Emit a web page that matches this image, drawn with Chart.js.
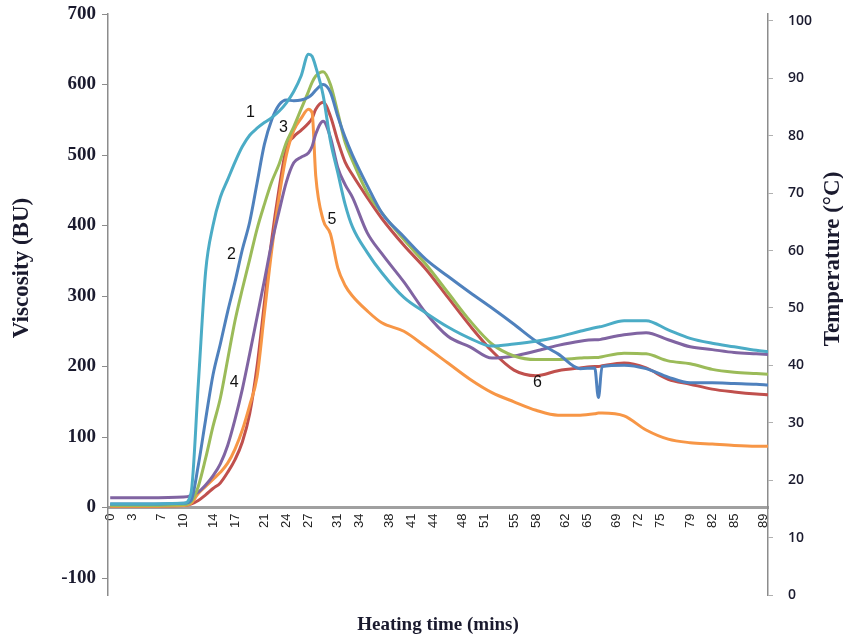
<!DOCTYPE html>
<html>
<head>
<meta charset="utf-8">
<script src="https://cdn.jsdelivr.net/npm/chart.js@4.4.1/dist/chart.umd.min.js"></script>
<style>
  body { margin: 0; background: #fff; }
  #wrap { width: 843px; height: 639px; }
</style>
</head>
<body>
<div id="wrap"><canvas id="visco-chart"></canvas></div>
<script>
// heating time (mins) at which the curves were read
const times = [0, 5, 10, 11, 12, 13, 14, 15, 16, 17, 18, 19, 20, 21, 22, 23, 24, 25, 26, 27, 27.5, 28, 29, 30, 31, 32, 33, 35, 37, 40, 43, 46, 49, 52, 55, 58, 61, 64, 66, 66.5, 67, 70, 73, 76, 79, 82, 85, 88, 89.6];

// viscosity (BU), one array per curve, numbered as on the figure
const curve1 = [5, 5, 6, 20, 175, 335, 400, 440, 465, 490, 512, 528, 538, 546, 553, 562, 574, 590, 612, 643, 640, 625, 585, 520, 475, 430, 398, 362, 333, 298, 276, 256, 240, 229, 232, 236, 242, 250, 255, 256, 257, 265, 265, 252, 240, 233, 228, 223, 221];
const curve2 = [5, 5, 6, 10, 60, 125, 188, 232, 278, 320, 366, 405, 460, 515, 550, 571, 578, 577, 578, 582, 586, 592, 600, 589, 555, 525, 500, 457, 418, 384, 352, 328, 305, 283, 260, 236, 218, 197, 198, 156, 200, 202, 197, 185, 177, 177, 176, 175, 174];
const curve3 = [3, 3, 4, 8, 30, 70, 115, 155, 210, 265, 310, 352, 395, 430, 462, 487, 518, 540, 565, 590, 603, 612, 618, 600, 560, 518, 492, 447, 418, 380, 345, 305, 265, 232, 215, 210, 210, 212, 213, 213, 214, 219, 218, 208, 204, 196, 192, 190, 189];
const curve4 = [14, 14, 15, 17, 22, 32, 45, 62, 88, 125, 168, 218, 270, 322, 375, 420, 462, 489, 497, 503, 512, 530, 548, 525, 482, 458, 440, 390, 360, 320, 276, 243, 228, 212, 215, 222, 230, 236, 238, 238, 239, 245, 248, 238, 228, 224, 220, 218, 217];
const curve5 = [2, 2, 3, 6, 20, 30, 40, 50, 63, 83, 110, 145, 185, 275, 365, 440, 500, 535, 552, 565, 560, 470, 408, 388, 340, 315, 300, 279, 262, 250, 228, 205, 182, 163, 150, 138, 131, 131, 133, 134, 134, 130, 110, 97, 92, 90, 88, 87, 87];
const curve6 = [2, 2, 3, 5, 10, 18, 27, 35, 50, 68, 93, 133, 200, 290, 380, 452, 510, 526, 535, 545, 552, 565, 575, 555, 520, 490, 472, 440, 410, 372, 338, 298, 258, 222, 195, 187, 194, 198, 200, 200, 201, 205, 198, 182, 175, 168, 164, 161, 160];

const curveColors = ['#4BACC6', '#4F81BD', '#9BBB59', '#8064A2', '#F79646', '#C0504D'];

// axis ticks
const xTicks = [0, 3, 7, 10, 14, 17, 21, 24, 27, 31, 34, 38, 41, 44, 48, 51, 55, 58, 62, 65, 69, 72, 75, 79, 82, 85, 89];
const yTicks = [-100, 0, 100, 200, 300, 400, 500, 600, 700];
const tempTicks = [0, 10, 20, 30, 40, 50, 60, 70, 80, 90, 100];

// curve number labels (time, viscosity)
const curveNames = ['1', '2', '3', '4', '5', '6'];
const nameTimes = [19.1, 16.5, 23.6, 16.9, 30.2, 58.2];
const nameValues = [560, 359, 539, 177, 408, 177];

const allCurves = [curve1, curve2, curve3, curve4, curve5, curve6];

const datasets = allCurves.map((vals, i) => ({
    label: curveNames[i],
    data: vals.map((v, j) => ({ x: times[j], y: v })),
    borderColor: curveColors[i],
    backgroundColor: curveColors[i],
    borderWidth: 3,
    pointRadius: 0,
    cubicInterpolationMode: 'monotone',
    yAxisID: 'y',
}));

const axisGray = '#8c8c8c';

// drop the label overflow padding so the plot area sits where the layout padding puts it
const noPad = (scale) => {
    scale.paddingTop = 0;
    scale.paddingBottom = 0;
    scale.paddingLeft = 0;
    scale.paddingRight = 0;
};

const textPlugin = {
    id: 'texts',
    afterDraw(chart) {
        const { ctx, chartArea } = chart;
        const x = chart.scales.x;
        const y = chart.scales.y;
        ctx.save();
        ctx.fillStyle = '#111';
        ctx.textAlign = 'center';
        ctx.textBaseline = 'middle';
        ctx.font = '16px "Liberation Sans"';
        curveNames.forEach((n, i) => {
            ctx.fillText(n, x.getPixelForValue(nameTimes[i]), y.getPixelForValue(nameValues[i]));
        });

        ctx.fillStyle = '#1a1a2e';
        ctx.font = 'bold 19px "Liberation Serif"';
        ctx.fillText('Heating time (mins)', (chartArea.left + chartArea.right) / 2, chart.height - 14);

        ctx.font = 'bold 23px "Liberation Serif"';
        ctx.translate(22, 268);
        ctx.rotate(-Math.PI / 2);
        ctx.fillText('Viscosity (BU)', 0, 0);
        ctx.restore();

        ctx.save();
        ctx.fillStyle = '#1a1a2e';
        ctx.textAlign = 'center';
        ctx.textBaseline = 'middle';
        ctx.font = 'bold 23px "Liberation Serif"';
        ctx.translate(833, 259);
        ctx.rotate(-Math.PI / 2);
        ctx.fillText('Temperature (°C)', 0, 0);
        ctx.restore();
    }
};

const config = {
    type: 'line',
    data: { datasets: datasets },
    options: {
        responsive: true,
        maintainAspectRatio: false,
        animation: false,
        layout: { padding: { left: 0, right: 0, top: 14, bottom: 44 } },
        plugins: {
            legend: { display: false },
            tooltip: { enabled: false },
        },
        scales: {
            x: {
                type: 'linear',
                position: { y: 0 },
                min: -0.3,
                max: 89.6,
                afterBuildTicks: (scale) => { scale.ticks = xTicks.map(v => ({ value: v })); },
                afterFit: noPad,
                ticks: {
                    autoSkip: false,
                    minRotation: 90,
                    maxRotation: 90,
                    padding: 6,
                    color: '#222',
                    font: { family: '"Liberation Sans"', size: 13 },
                },
                grid: { display: true, drawOnChartArea: false, drawTicks: false },
                border: { display: true, color: '#a0a0a0', width: 3 },
            },
            y: {
                type: 'linear',
                position: 'left',
                min: -124,
                max: 700,
                afterBuildTicks: (scale) => { scale.ticks = yTicks.map(v => ({ value: v })); },
                afterFit: (scale) => { noPad(scale); scale.width = 108; },
                ticks: {
                    padding: 6,
                    color: '#1a1a2e',
                    font: { family: '"Liberation Serif"', size: 19, weight: 'bold' },
                },
                grid: { display: true, drawOnChartArea: false, drawTicks: true, tickLength: 6, color: axisGray },
                border: { display: true, color: axisGray, width: 1.5 },
            },
            temp: {
                type: 'linear',
                position: 'right',
                display: true,
                min: 0,
                max: 101.2,
                afterBuildTicks: (scale) => { scale.ticks = tempTicks.map(v => ({ value: v })); },
                afterFit: (scale) => { noPad(scale); scale.width = 75; },
                ticks: {
                    padding: 15,
                    color: '#1a1a2e',
                    font: { family: '"Open Sans"', size: 14, weight: '600' },
                },
                grid: { display: true, drawOnChartArea: false, drawTicks: true, tickLength: 5, color: '#b0b0b0' },
                border: { display: true, color: axisGray, width: 1.5 },
            },
        },
    },
    plugins: [textPlugin],
};

const dv = document.getElementById('visco-chart');
const viscoChart = new Chart(dv, config);
</script>
</body>
</html>
